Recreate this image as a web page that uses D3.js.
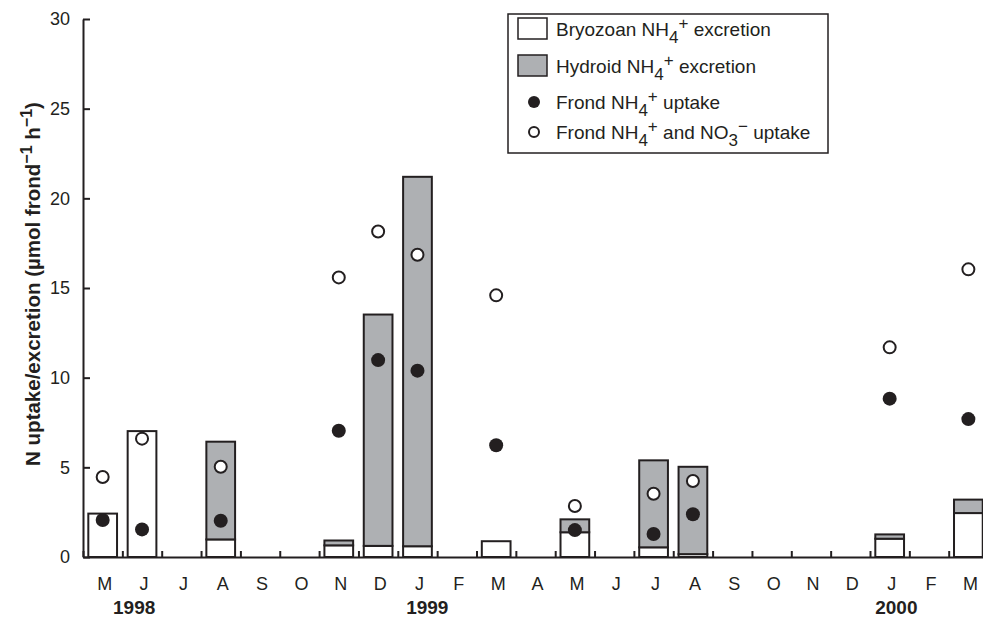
<!DOCTYPE html>
<html>
    <head>
        <meta charset="utf-8">
        <title>N uptake / excretion</title>
        <style>
            body { margin: 0; background: #fff; }
            text { font-family: "Liberation Sans", Arial, sans-serif; fill: #231f20; }
        </style>
    </head>
    <body>

        <script type="text/javascript" src="https://d3js.org/d3.v7.min.js"></script>
        <script type="text/javascript">
            // months May 1998 .. Mar 2000
            var months = ['M','J','J','A','S','O','N','D','J','F','M','A','M','J','J','A','S','O','N','D','J','F','M'];
            // null = no measurement that month
            var bryozoan = [2.42, 7.02, null, 0.98, null, null, 0.65, 0.62, 0.6, null, 0.88, null, 1.38, null, 0.54, 0.16, null, null, null, null, 1.02, null, 2.45];
            var hydroid  = [0, 0, null, 5.45, null, null, 0.27, 12.9, 20.6, null, 0, null, 0.72, null, 4.85, 4.87, null, null, null, null, 0.24, null, 0.75];
            var nh4Uptake    = [2.06, 1.54, null, 2.02, null, null, 7.04, 10.98, 10.39, null, 6.23, null, 1.5, null, 1.28, 2.38, null, null, null, null, 8.83, null, 7.69];
            var nh4no3Uptake = [4.46, 6.6, null, 5.03, null, null, 15.59, 18.15, 16.85, null, 14.59, null, 2.84, null, 3.53, 4.24, null, null, null, null, 11.69, null, 16.04];
            var yTicks = [0, 5, 10, 15, 20, 25, 30];
            var years = [{label: '1998', pos: 0.8}, {label: '1999', pos: 8.25}, {label: '2000', pos: 20.17}];

            var width = 983, height = 617;
            var plotLeft = 83, plotTop = 19, plotBottom = 557;
            var step = 39.35;
            var ink = '#231f20', grey = '#aeb0b3';
            var fs = 19;

            var svg = d3.select('body')
                .append('svg')
                .attr('width', width)
                .attr('height', height);

            var xBand = d3.scaleBand()
                .domain(d3.range(months.length))
                .range([plotLeft, plotLeft + step * months.length])
                .paddingInner(0.27)
                .paddingOuter(0.135);

            var xEdge = d3.scaleLinear()
                .domain([0, months.length])
                .range([plotLeft, plotLeft + step * months.length]);

            var y = d3.scaleLinear()
                .domain([0, 30])
                .range([plotBottom, plotTop]);

            // bars: bryozoan at the bottom, hydroid stacked on top
            var idx = d3.range(months.length).filter(function(i){ return bryozoan[i] !== null; });

            svg.selectAll('rect.bryo')
                .data(idx)
                .enter()
                .append('rect')
                .attr('class', 'bryo')
                .attr('x', function(i){ return xBand(i); })
                .attr('width', xBand.bandwidth())
                .attr('y', function(i){ return y(bryozoan[i]); })
                .attr('height', function(i){ return y(0) - y(bryozoan[i]); })
                .attr('fill', '#fff')
                .attr('stroke', ink)
                .attr('stroke-width', 2);

            svg.selectAll('rect.hyd')
                .data(idx.filter(function(i){ return hydroid[i] > 0; }))
                .enter()
                .append('rect')
                .attr('class', 'hyd')
                .attr('x', function(i){ return xBand(i); })
                .attr('width', xBand.bandwidth())
                .attr('y', function(i){ return y(bryozoan[i] + hydroid[i]); })
                .attr('height', function(i){ return y(bryozoan[i]) - y(bryozoan[i] + hydroid[i]); })
                .attr('fill', grey)
                .attr('stroke', ink)
                .attr('stroke-width', 2);

            // y axis
            var yAxis = d3.axisLeft(y)
                .tickValues(yTicks)
                .tickSizeInner(-7)
                .tickSizeOuter(0)
                .tickPadding(13);

            var gy = svg.append('g')
                .attr('transform', 'translate(' + plotLeft + ',0)')
                .call(yAxis);
            gy.select('.domain').attr('stroke', ink).attr('stroke-width', 2);
            gy.selectAll('.tick line').attr('stroke', ink).attr('stroke-width', 2);
            gy.selectAll('.tick text')
                .attr('font-size', 18)
                .attr('font-family', '"Liberation Sans", Arial, sans-serif')
                .attr('fill', ink);

            // x axis: ticks at month boundaries
            var xTicks = d3.axisBottom(xEdge)
                .tickValues(d3.range(months.length + 1))
                .tickFormat('')
                .tickSizeInner(-6)
                .tickSizeOuter(0);

            var gx = svg.append('g')
                .attr('transform', 'translate(0,' + plotBottom + ')')
                .call(xTicks);
            gx.select('.domain').attr('stroke', ink).attr('stroke-width', 2);
            gx.selectAll('.tick line').attr('stroke', ink).attr('stroke-width', 2);

            // month labels at band centres
            var xLabels = d3.axisBottom(xBand)
                .tickFormat(function(i){ return months[i]; })
                .tickSize(0)
                .tickPadding(20);

            var gl = svg.append('g')
                .attr('transform', 'translate(2,' + plotBottom + ')')
                .call(xLabels);
            gl.select('.domain').remove();
            gl.selectAll('.tick text')
                .attr('font-size', 18)
                .attr('font-family', '"Liberation Sans", Arial, sans-serif')
                .attr('fill', ink);

            svg.selectAll('text.year')
                .data(years)
                .enter()
                .append('text')
                .attr('class', 'year')
                .attr('x', function(d){ return xEdge(d.pos + 0.5); })
                .attr('y', 614)
                .attr('text-anchor', 'middle')
                .attr('font-size', fs)
                .attr('font-weight', 'bold')
                .text(function(d){ return d.label; });

            // points
            var xc = function(i){ return xBand(i) + xBand.bandwidth() / 2; };

            svg.selectAll('circle.open')
                .data(d3.range(months.length).filter(function(i){ return nh4no3Uptake[i] !== null; }))
                .enter()
                .append('circle')
                .attr('class', 'open')
                .attr('cx', xc)
                .attr('cy', function(i){ return y(nh4no3Uptake[i]); })
                .attr('r', 6)
                .attr('fill', '#fff')
                .attr('stroke', ink)
                .attr('stroke-width', 2);

            svg.selectAll('circle.filled')
                .data(d3.range(months.length).filter(function(i){ return nh4Uptake[i] !== null; }))
                .enter()
                .append('circle')
                .attr('class', 'filled')
                .attr('cx', xc)
                .attr('cy', function(i){ return y(nh4Uptake[i]); })
                .attr('r', 7)
                .attr('fill', ink);

            // y axis title
            var title = svg.append('text')
                .attr('transform', 'translate(40,284) rotate(-90)')
                .attr('text-anchor', 'middle')
                .attr('font-size', 20.5)
                .attr('font-weight', 'bold');
            title.append('tspan').text('N uptake/excretion (\u00b5mol frond');
            title.append('tspan').attr('dy', -8).attr('font-size', 16).text('\u22121');
            title.append('tspan').attr('dy', 8).text(' h');
            title.append('tspan').attr('dy', -8).attr('font-size', 16).text('\u22121');
            title.append('tspan').attr('dy', 8).text(')');

            // legend
            var legend = svg.append('g');
            legend.append('rect')
                .attr('x', 508).attr('y', 14)
                .attr('width', 320).attr('height', 139)
                .attr('fill', '#fff')
                .attr('stroke', ink)
                .attr('stroke-width', 1.5);

            var nh4 = [['NH', 0], ['4', 1], ['+', -1]];
            var legendItems = [
                {type: 'box', fill: '#fff', parts: [['Bryozoan ', 0]].concat(nh4, [[' excretion', 0]])},
                {type: 'box', fill: grey, parts: [['Hydroid ', 0]].concat(nh4, [[' excretion', 0]])},
                {type: 'dot', fill: ink, parts: [['Frond ', 0]].concat(nh4, [[' uptake', 0]])},
                {type: 'dot', fill: '#fff', parts: [['Frond ', 0]].concat(nh4, [[' and NO', 0], ['3', 1], ['\u2212', -1], [' uptake', 0]])}
            ];
            var rowY = [29, 66, 102, 132];

            legendItems.forEach(function(d, k){
                var cy = rowY[k];
                if (d.type === 'box') {
                    legend.append('rect')
                        .attr('x', 518).attr('y', cy - 11)
                        .attr('width', 29).attr('height', 21)
                        .attr('fill', d.fill)
                        .attr('stroke', ink)
                        .attr('stroke-width', 1.5);
                } else {
                    legend.append('circle')
                        .attr('cx', 534).attr('cy', cy)
                        .attr('r', d.fill === ink ? 6 : 5)
                        .attr('fill', d.fill)
                        .attr('stroke', ink)
                        .attr('stroke-width', d.fill === ink ? 0 : 2);
                }
                var t = legend.append('text')
                    .attr('x', 556)
                    .attr('y', cy + 7)
                    .attr('font-size', fs);
                var level = 0;
                d.parts.forEach(function(p){
                    var target = p[1] * 7;
                    t.append('tspan')
                        .attr('dy', target - level)
                        .attr('font-size', p[1] === 0 ? fs : 17)
                        .text(p[0]);
                    level = target;
                });
            });
        </script>

    </body>
</html>
